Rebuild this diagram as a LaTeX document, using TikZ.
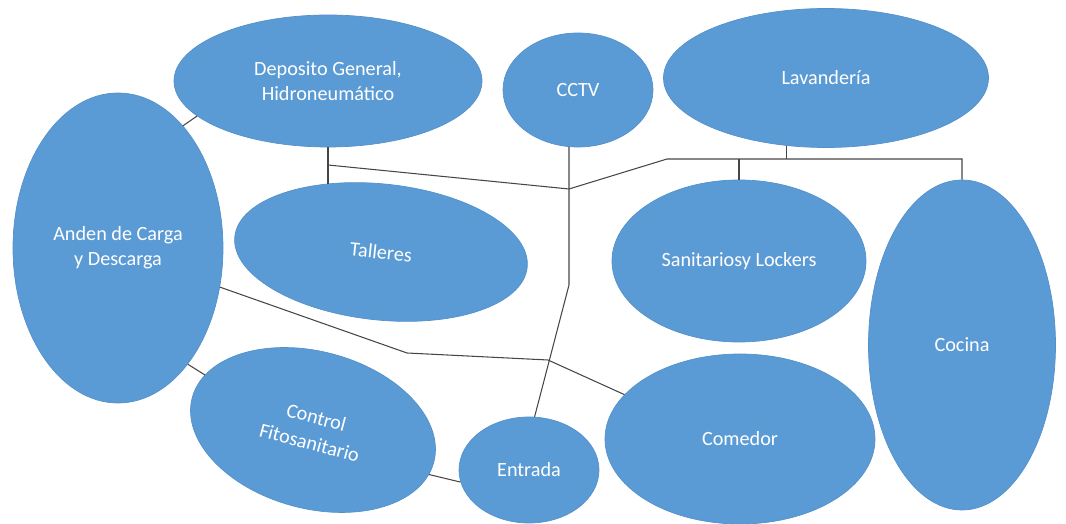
\documentclass[tikz,border=0pt]{standalone}
\usepackage{fontspec}
\setmainfont{Carlito}
\usepackage{xcolor}
\definecolor{zonablue}{RGB}{91,155,213}
\definecolor{zonaedge}{RGB}{84,145,202}
\definecolor{linegray}{RGB}{70,70,70}
\usepackage{tikz}
\usetikzlibrary{shapes.geometric, calc}

\begin{document}
\begin{tikzpicture}[
  zona/.style={ellipse, fill=zonablue, draw=zonaedge, line width=0.4pt, inner sep=0pt,
    text=white, align=center, font=\fontsize{11.5}{14}\selectfont},
  enlace/.style={draw=linegray, line width=0.6pt}
]
  \useasboundingbox (0,0) rectangle (21.32,10.48);

  % zonas
  \node[zona, minimum width=4.20cm, minimum height=6.20cm] (anden) at (2.36,5.52) {Anden de Carga\\y Descarga};
  \node[zona, minimum width=6.16cm, minimum height=2.64cm] (deposito) at (6.56,8.86) {Deposito General,\\Hidroneumático};
  \node[zona, minimum width=3.00cm, minimum height=2.28cm] (cctv) at (11.56,8.68) {CCTV};
  \node[zona, minimum width=6.50cm, minimum height=2.78cm] (lavanderia) at (16.52,8.92) {Lavandería};
  \node[zona, minimum width=5.88cm, minimum height=2.72cm, rotate=-6] (talleres) at (7.62,5.44) {Talleres};
  \node[zona, minimum width=5.08cm, minimum height=3.24cm] (sanitarios) at (14.78,5.26) {Sanitariosy Lockers};
  \node[zona, minimum width=3.74cm, minimum height=6.60cm] (cocina) at (19.24,3.58) {Cocina};
  \node[zona, minimum width=5.00cm, minimum height=3.14cm, rotate=-15,
    font=\fontsize{11.5}{15}\selectfont] (control) at (6.26,1.88) {Control\\Fitosanitario};
  \node[zona, minimum width=2.80cm, minimum height=2.12cm] (entrada) at (10.58,1.08) {Entrada};
  \node[zona, minimum width=5.40cm, minimum height=3.40cm] (comedor) at (14.80,1.70) {Comedor};

  % puntos de quiebre
  \coordinate (depo) at (6.56,7.18);
  \coordinate (cruce) at (11.38,6.70);
  \coordinate (quiebre) at (13.34,7.30);
  \coordinate (baja) at (11.38,4.78);
  \coordinate (codo1) at (8.14,3.42);
  \coordinate (codo2) at (10.96,3.28);

  % enlaces
  \draw[enlace] (anden.62) -- (deposito.195);
  \draw[enlace] (deposito.south) -- (deposito.south |- talleres.north);
  \draw[enlace] (depo) -- (cruce) -- (quiebre) -- (cocina.north |- quiebre) -- (cocina.north);
  \draw[enlace] (lavanderia.240) -- (lavanderia.240 |- quiebre);
  \draw[enlace] (sanitarios.north |- quiebre) -- (sanitarios.north);
  \draw[enlace] (cctv.261) -- (baja) -- (entrada.84);
  \draw[enlace] (anden.339) -- (codo1) -- (codo2) -- (comedor.159);
  \draw[enlace] (anden.301) -- (control.168);
  \draw[enlace] (control.354) -- (entrada.190);
\end{tikzpicture}
\end{document}
